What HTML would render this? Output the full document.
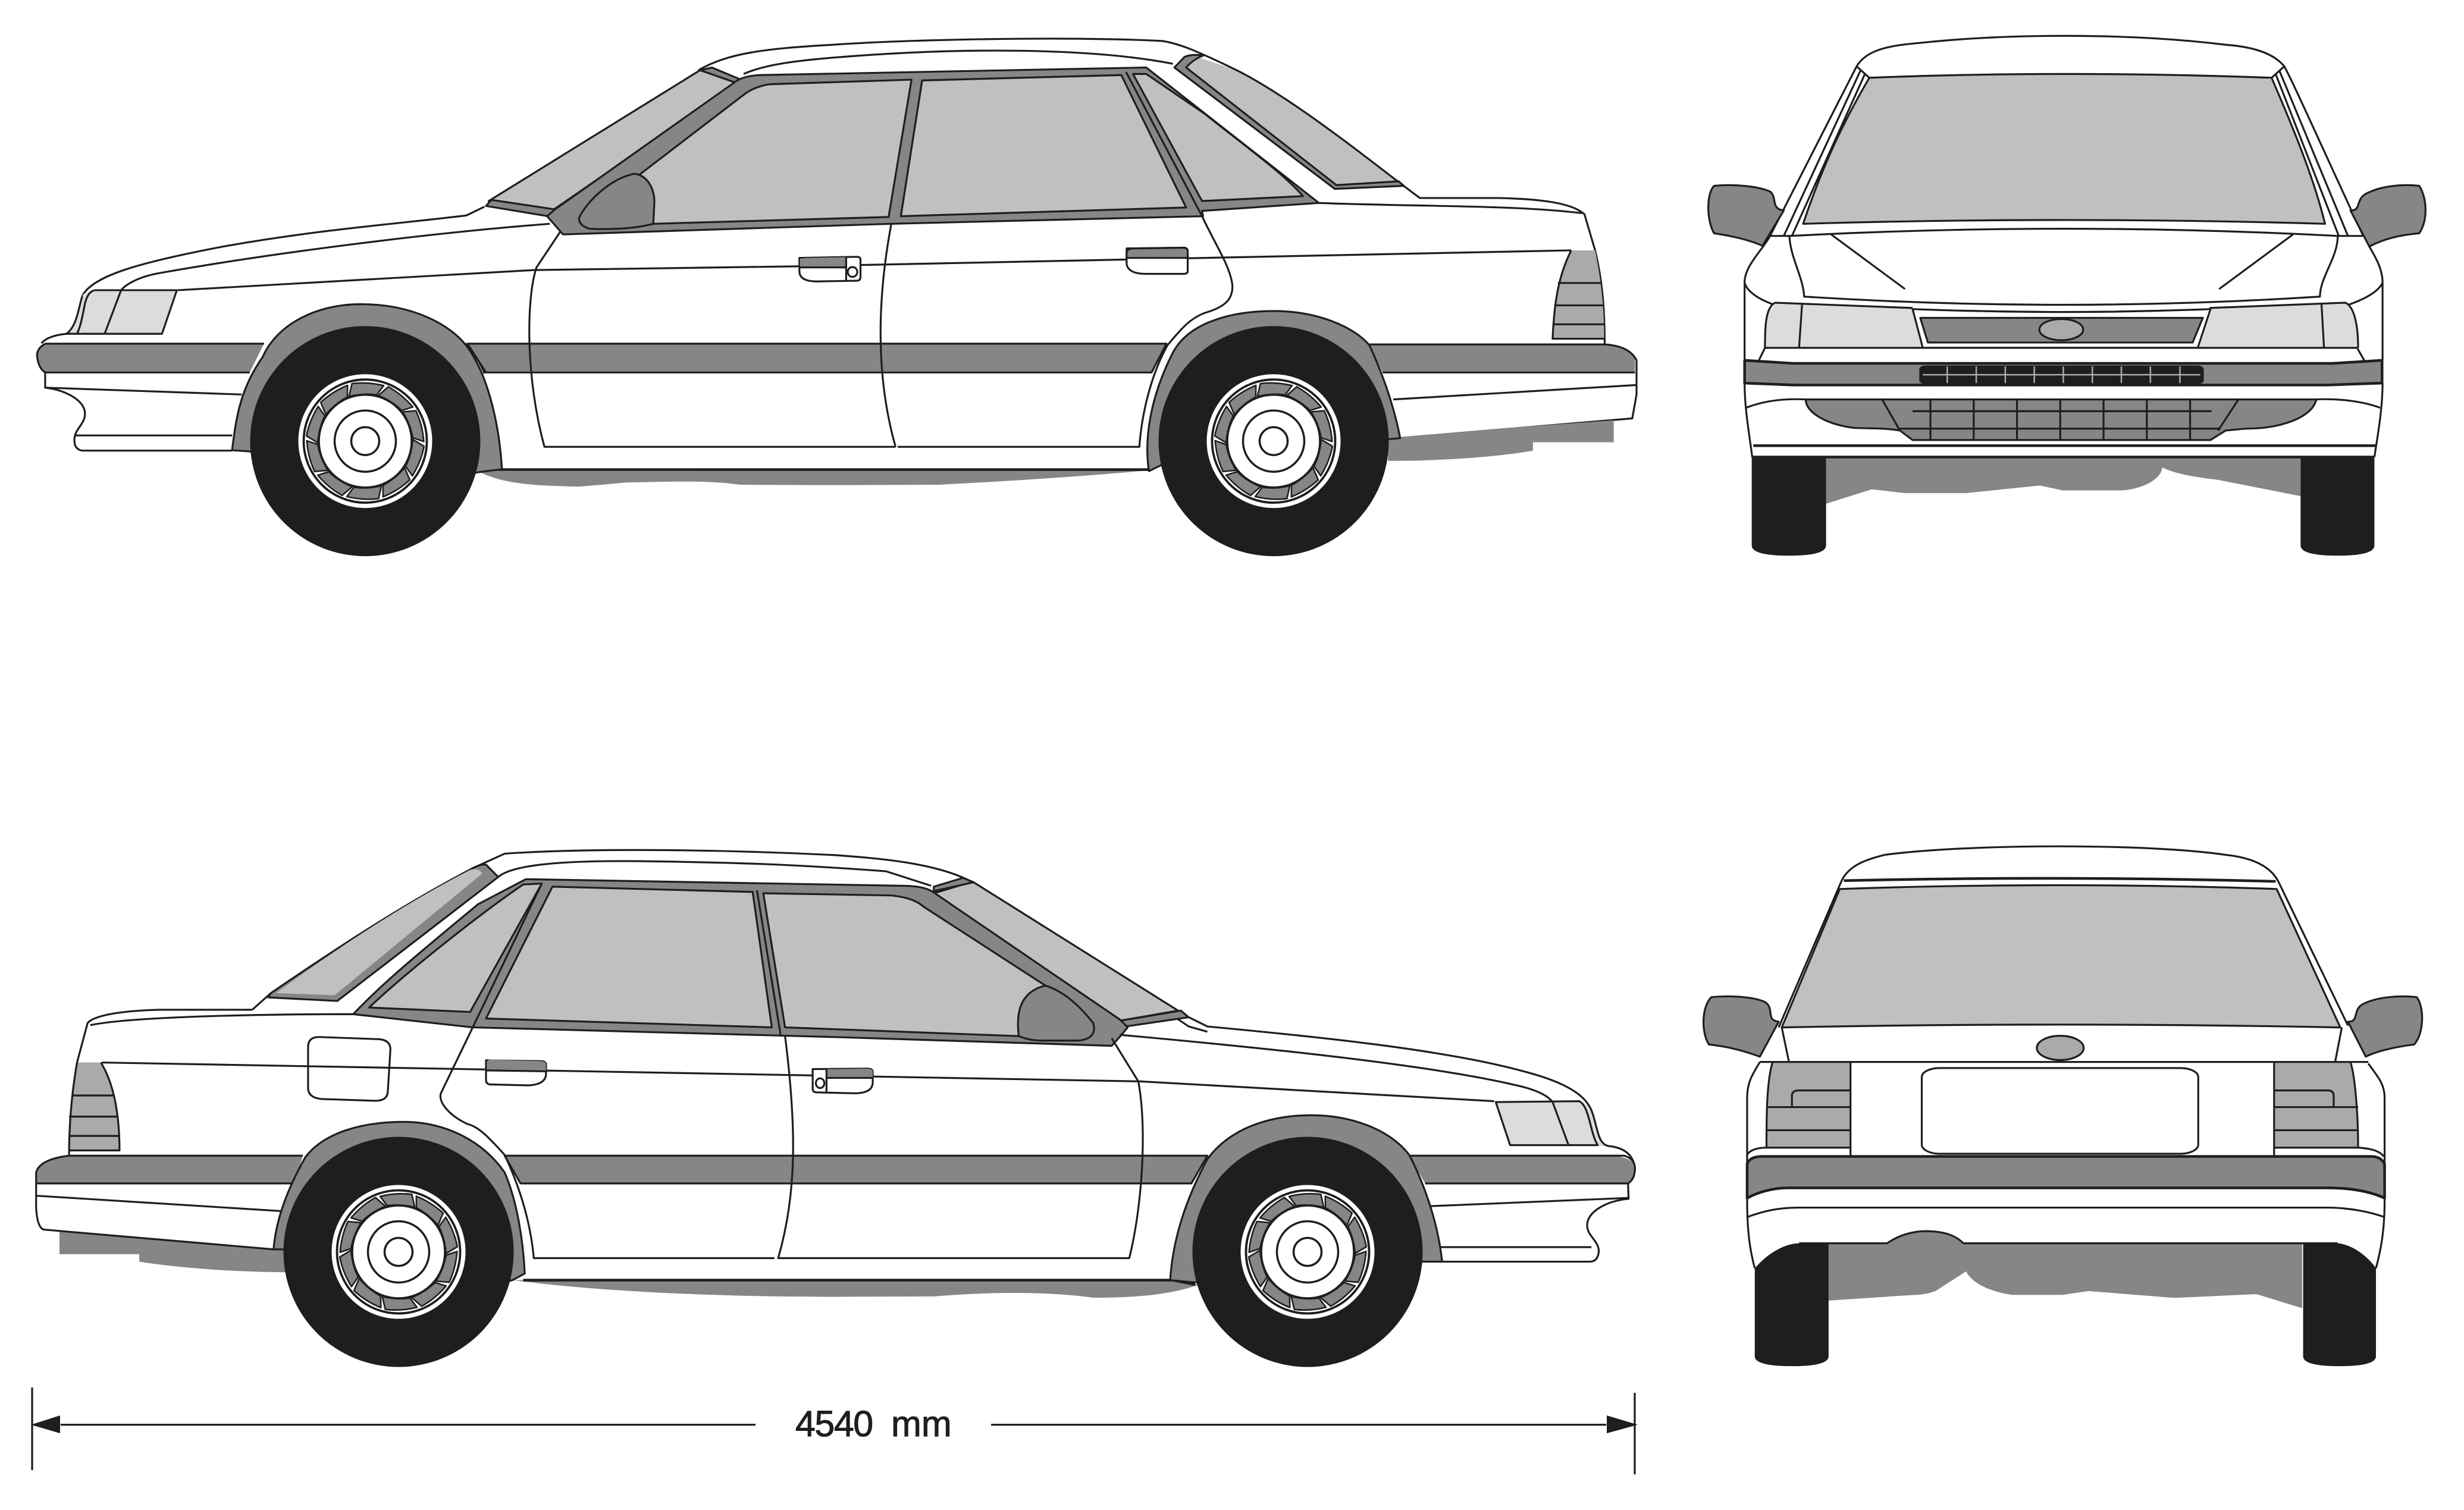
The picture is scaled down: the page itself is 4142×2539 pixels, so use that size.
<!DOCTYPE html>
<html><head><meta charset="utf-8"><style>
html,body{margin:0;padding:0;background:#fff}
svg{display:block}
svg *{vector-effect:non-scaling-stroke}
path,line,ellipse,rect,circle{stroke:#1e1e1e;stroke-width:3.2;stroke-linejoin:round;fill:none}
.g{fill:#868686}.l{fill:#c0c0c0}.k{fill:#1e1e1e}.h{fill:#dcdcdc}.t{fill:#aaa}.w{fill:#fff}
.n{stroke:none}.b{stroke-width:4.5}
text{font-family:"Liberation Sans",sans-serif;font-size:61px;fill:#1e1e1e;stroke:#1e1e1e;stroke-width:1;white-space:pre}
</style></head><body>
<svg xmlns="http://www.w3.org/2000/svg" width="4142" height="2539" viewBox="0 0 4142 2539">
<defs>
<path id="sg" class="g" style="stroke-width:2.6" d="M-22.3,-96.7 Q4,-100 31,-93.3 L19.3,-77.7 Q-4,-81 -27.3,-75Z"/>
<g id="sgs">
<use href="#sg"/><use href="#sg" transform="rotate(36)"/><use href="#sg" transform="rotate(72)"/><use href="#sg" transform="rotate(108)"/><use href="#sg" transform="rotate(144)"/><use href="#sg" transform="rotate(180)"/><use href="#sg" transform="rotate(216)"/><use href="#sg" transform="rotate(252)"/><use href="#sg" transform="rotate(288)"/><use href="#sg" transform="rotate(324)"/>
</g>
<g id="hub">
<circle r="78" class="w" style="stroke-width:3.5"/>
<circle r="51.5" class="w" style="stroke-width:3.5"/>
<circle r="23.5" class="w" style="stroke-width:3.5"/>
</g>
<g id="tyre">
<circle r="193.5" class="k n"/>
<circle r="112.5" class="w n"/>
<circle r="103.5" style="stroke-width:3.8"/>
</g>
<g id="wa"><use href="#tyre"/><use href="#sgs"/><use href="#hub"/></g>
<g id="wb"><use href="#tyre"/><use href="#sgs" transform="scale(-1,1)"/><use href="#hub"/></g>
</defs>

<!-- TOP SIDE VIEW -->
<g transform="scale(.8929,.6378)">
<path class="g n" d="M900,1242 L2163,1240 C2000,1260 1900,1268 1768,1278 L1568,1279 L1395,1278 C1340,1268 1300,1268 1180,1272 L1090,1283 C1020,1280 950,1280 900,1242Z"/>
<path class="b" d="M900,1238 L2163,1238"/>
<path class="g n" d="M80,906 L497,906 L470,982 L85,982 Q68,960 70,935 Q72,915 85,906Z"/>
<path d="M85,906 L497,906 M85,982 L470,982 M85,906 Q68,920 70,940 Q72,970 85,982"/>
<path class="g" d="M880,906 L2196,906 L2168,982 L915,982Z"/>
<path class="g" d="M437,1187 C445,1090 455,1020 495,940 C520,860 590,802 680,802 C770,802 850,850 885,925 C920,1000 940,1120 945,1237 L900,1245 L700,1300 L470,1190Z"/>
<path d="M875,905 Q900,940 912,985"/>

<path d="M155,780 C175,725 270,690 420,650 C600,605 750,590 878,568 L912,545"/>
<path d="M1035,590 C800,615 500,670 300,720 C260,730 235,750 225,770"/>
<path class="h n" d="M155,780 C148,810 145,860 125,880 L305,880 L333,765 L178,765 Q160,768 155,780Z"/>
<path d="M155,780 C148,810 145,860 125,880 Q90,885 78,905 M85,982 L85,1022 C130,1030 160,1060 160,1090 C160,1120 140,1130 140,1160 Q140,1185 155,1188 L437,1188"/>
<path d="M85,1022 L455,1040 M140,1148 L437,1148"/>
<path d="M178,765 L333,765 L305,880 L125,880 M178,765 Q165,770 160,800 C155,835 152,860 145,880"/>
<path d="M228,765 L197,880"/>
<path d="M335,765 L1005,712 L1505,702 L2958,660"/>
<path d="M1060,600 L1010,705 C990,790 990,1000 1025,1178 L1686,1178"/>
<path d="M1678,590 C1650,800 1650,1000 1686,1178"/>
<path d="M1690,1178 L2145,1178 C2150,1080 2170,980 2198,910 C2225,865 2240,840 2268,825 C2305,810 2322,790 2320,750 C2315,700 2290,650 2263,570"/>

<path class="l n" d="M2233,180 L2258,152 L2328,185 C2400,235 2500,335 2633,480 L2516,488Z"/>
<path d="M1315,185 C1370,140 1440,128 1568,118 C1700,105 2000,95 2188,108 C2220,115 2250,132 2328,185 C2400,235 2500,335 2633,480 L2673,522 L2818,522 C2900,524 2960,535 2983,565 L3003,660 C3015,730 3021,800 3021,908"/>
<path d="M1400,195 C1440,170 1500,160 1568,152 C1800,125 2050,125 2208,168"/>
<path class="l" d="M920,530 L1318,185 L1395,212 L1043,552Z"/>
<path class="g" d="M915,543 L925,527 L1045,552 L1032,570Z"/>
<path class="g" d="M1318,185 L1340,178 L1395,210 L1385,218Z"/>
<path class="g" d="M1030,570 L1045,552 L1385,215 Q1400,200 1430,198 L2158,178 L2483,535 L2263,556 L2265,570 L1678,590 L1060,618Z"/>
<path class="l" d="M1195,470 L1400,250 Q1420,228 1450,222 L1716,210 L1673,572 L1230,590Z"/>
<path class="g" d="M1090,575 C1105,530 1150,470 1195,458 C1225,465 1232,510 1232,530 L1230,590 C1190,605 1140,605 1110,603 Q1090,595 1090,575Z"/>
<g transform="translate(1568,0)">
<path class="l" d="M168,212 L543,198 L665,547 L128,570Z"/>
<path class="l" d="M565,195 L590,195 L700,300 C790,400 850,460 885,517 L695,530Z"/>
<path d="M552,190 L695,570"/>
<path d="M643,178 L945,498"/>
<path class="g" d="M643,178 L662,150 Q675,142 698,146 Q680,155 665,178 L948,488 L1065,478 L1075,490 L945,498Z"/>
<path class="w" d="M553,655 L660,653 Q668,653 668,663 L668,715 Q668,722 660,722 L590,722 Q555,722 553,695Z"/>
<path class="g" d="M553,680 L553,665 Q555,655 565,655 L660,653 Q668,653 668,663 L668,680Z"/>
<path class="t n" d="M1390,660 L1435,660 C1445,730 1452,800 1452,893 L1355,893 C1358,800 1365,730 1390,660Z"/>
<path d="M1390,660 C1365,730 1358,800 1355,893 L1452,893 M1365,746 L1448,746 M1358,805 L1452,805 M1356,855 L1452,855"/>
<path d="M915,535 C1100,545 1280,540 1410,562"/>
<path class="g n" d="M1010,908 L1453,908 Q1500,912 1510,945 L1510,982 L1035,982Z"/>
<path d="M1010,908 L1453,908 Q1500,912 1513,950 L1513,1040 L1505,1103 L1065,1155 M1035,982 L1510,982 M1055,1053 L1513,1015"/>
<path class="g n" d="M1045,1155 L1300,1125 L1470,1108 L1470,1166 L1318,1166 L1318,1188 C1250,1205 1150,1215 1045,1215Z"/>
<path class="g" d="M595,1242 C585,1150 600,1040 640,930 C670,850 750,820 830,820 C910,820 980,860 1010,910 C1030,970 1055,1060 1068,1155 L1045,1158 L1000,1200 L620,1225Z"/>
<path class="w" d="M-63,680 L45,677 Q52,677 52,685 L52,730 Q52,740 45,740 L-30,742 Q-63,742 -63,715Z"/>
<path class="g n" d="M-62,705 L-62,690 Q-60,680 -50,680 L25,678 L25,705Z"/>
<path d="M-63,705 L25,705 M25,678 L25,740"/>
<ellipse cx="37" cy="717" rx="9" ry="13"/>
</g>
</g>
<use href="#wa" x="614" y="741.7"/>
<use href="#wa" x="2141" y="741.7"/>

<!-- BOTTOM SIDE VIEW -->
<g transform="translate(0,1380) scale(.8929,.7392)">
<path class="g n" d="M965,1045 L2208,1045 L2258,1055 C2200,1080 2130,1085 2058,1085 C2000,1075 1900,1068 1758,1082 L1568,1083 C1400,1083 1150,1075 965,1045Z"/>
<path class="b" d="M985,1045 L2208,1045 L2250,1055"/>
<path class="g n" d="M112,935 L515,975 L540,975 L540,1027 C450,1027 340,1018 262,1003 L262,986 L112,986Z"/>
<path class="g n" d="M130,762 L570,762 L555,825 L68,825 L68,800 Q75,770 130,762Z"/>
<path d="M68,825 L68,800 Q75,770 130,762 L570,762 M68,825 L555,825"/>
<path class="g" d="M950,762 L2273,762 L2243,825 L980,825Z"/>
<path d="M68,825 L68,880 Q70,925 82,930 L515,975 M68,853 L530,888"/>
<path class="g" d="M515,975 C520,900 545,830 575,765 C610,710 680,685 760,685 C840,685 910,730 950,800 C975,870 985,960 988,1030 L965,1045 L800,1100 L540,975Z"/>
<path class="t n" d="M145,550 L190,550 C215,600 225,670 225,750 L130,750 C130,680 135,610 145,550Z"/>
<path d="M190,550 C215,600 225,670 225,750 L130,750 M135,625 L216,625 M130,673 L222,673 M130,717 L225,717"/>
<path d="M475,430 L300,430 C240,432 180,440 165,460 L145,550 C135,620 130,690 130,762"/>
<path d="M170,465 C250,445 500,440 665,440 L890,470"/>
<path class="w" d="M600,492 L715,497 Q735,500 735,520 L730,618 Q728,638 705,637 L605,633 Q580,630 580,608 L580,515 Q580,492 600,492Z"/>
<path d="M192,550 L2148,593 L2813,638"/>
<path d="M475,430 L510,392"/>
<path class="g" d="M510,392 C640,285 760,190 890,108 Q905,98 915,100 L938,128 L635,410 L505,402Z"/>
<path class="l n" d="M520,392 C640,285 760,190 885,112 Q900,106 908,120 L630,397Z"/>
<path d="M938,128 C960,105 1030,90 1200,92 C1400,95 1500,100 1668,115 L1753,148"/>
<path d="M890,108 L950,75 C1100,62 1350,65 1568,78 C1650,85 1760,95 1828,138 L2238,468 L2273,480"/>
<path class="l" d="M1758,165 L1813,145 L1833,140 L2218,432 L2108,455Z"/>
<path class="g" d="M1758,150 L1813,130 L1833,140 L1758,160Z"/>
<path class="g" d="M2108,455 L2223,432 L2238,447 L2108,470Z"/>
<path class="g" d="M665,440 C720,370 780,310 900,190 L990,133 L1698,148 C1730,148 1750,155 1760,165 L2108,452 L2123,470 L2113,485 L2093,512 L1568,492 L890,470Z"/>
<path class="l" d="M695,425 C760,350 900,215 985,145 L1020,143 L885,435Z"/>
<path class="l" d="M1040,150 L1417,162 L1453,470 L915,450Z"/>
<path d="M1425,158 L1470,490"/>
<path class="l" d="M1437,165 L1678,170 Q1720,175 1738,195 L1968,375 L1918,490 L1478,470Z"/>
<path d="M1020,143 L890,470"/>
<path d="M1458,995 L1005,995 C1000,930 985,850 950,760 C920,720 900,695 880,690 C845,670 825,640 830,620 L890,470"/>
<path d="M1478,490 C1500,700 1500,850 1465,995 L2126,995 C2150,880 2160,700 2143,593 L2093,495"/>
<g transform="translate(1568,0)">
<path class="g" d="M350,490 C345,440 350,390 400,375 C440,390 470,430 490,460 C495,480 490,495 465,500 L390,500 Q370,500 350,490Z"/>
<path d="M540,487 C750,510 1100,550 1280,600 Q1340,615 1355,640"/>
<path class="h n" d="M1248,640 L1405,638 Q1428,645 1432,670 C1438,710 1440,735 1460,740 L1275,738Z"/>
<path d="M670,447 L705,468 C900,490 1150,520 1300,570 C1380,595 1420,625 1430,665 C1440,700 1440,735 1460,740 Q1505,745 1510,790 Q1510,815 1497,825 L1498,860 C1455,865 1420,890 1420,920 C1420,945 1442,955 1442,980 Q1440,1003 1425,1003 L1147,1003"/>
<path d="M1120,877 L1498,858 M1145,970 L1428,970"/>
<path d="M1248,640 L1405,638 C1425,650 1425,710 1440,738 L1275,738Z"/>
<path d="M1355,640 L1385,738"/>
<path class="g n" d="M1085,762 L1470,762 Q1510,768 1510,790 Q1510,815 1497,825 L1115,825Z"/>
<path d="M1085,762 L1490,762 Q1510,770 1510,790 Q1510,815 1497,825 L1115,825"/>
<path class="g" d="M635,1045 C640,950 665,860 705,770 C750,695 830,670 900,670 C980,670 1050,705 1085,760 C1115,830 1140,920 1147,1003 L1110,1003 L680,1050Z"/>
<path class="w" d="M-38,565 L65,564 Q75,564 75,572 L75,595 Q75,620 40,620 L-30,618 Q-38,618 -38,610Z"/>
<path class="g n" d="M-12,565 L65,564 Q75,564 75,572 L75,585 L-12,585Z"/>
<path d="M-12,565 L-12,618 M-12,585 L75,585"/>
<ellipse cx="-24" cy="597" rx="8" ry="11"/>
</g>
<path class="w" d="M915,545 L1020,547 Q1028,548 1028,555 L1028,575 Q1028,600 995,602 L925,600 Q915,600 915,590Z"/>
<path class="g n" d="M917,568 L917,548 Q918,543 925,543 L1020,547 Q1028,548 1028,555 L1028,570Z"/>
<path d="M915,568 L1028,570"/>
</g>
<use href="#wb" x="670" y="2105"/>
<use href="#wb" x="2198" y="2105"/>

<!-- DIMENSION -->
<g>
<line x1="54" y1="2333" x2="54" y2="2472"/>
<line x1="102" y1="2395.6" x2="1270" y2="2395.6"/>
<path class="k n" d="M52,2395.6 L101,2380 L101,2410Z"/>
<line x1="2748" y1="2342" x2="2748" y2="2479"/>
<line x1="1666" y1="2395.6" x2="2700" y2="2395.6"/>
<path class="k n" d="M2753,2395.6 L2701,2380 L2701,2410Z"/>
<text x="1337" y="2415" letter-spacing="-1.5">4540</text>
<text x="1498" y="2415">mm</text>
</g>

<!-- FRONT VIEW -->
<g transform="translate(2800,0) scale(.8559,.6378)">
<path class="g n" d="M315,1208 L1247,1208 L1247,1308 L1085,1265 C1050,1260 1000,1250 975,1232 C975,1265 930,1293 890,1293 L780,1293 L735,1280 L590,1300 L470,1300 L405,1290 L315,1328Z"/>
<path class="k n" d="M169,1205 L315,1205 L315,1438 Q315,1465 242,1465 Q169,1465 169,1438Z"/>
<path class="k n" d="M1247,1205 L1392,1205 L1392,1438 Q1392,1465 1320,1465 Q1247,1465 1247,1438Z"/>
<path d="M375,175 C395,130 440,120 500,113 C660,90 900,85 1100,118 C1170,125 1200,150 1215,175 C1230,210 1300,420 1370,622"/>
<path d="M375,175 L205,622 M383,185 L232,622 M392,193 L248,622 M1205,185 L1340,622 M1198,195 L1322,622 M375,175 L400,205 M1215,175 L1190,205"/>
<path class="l" d="M400,205 Q780,185 1190,205 C1240,360 1275,480 1295,590 Q780,570 270,590 C310,430 350,320 400,205Z"/>
<path d="M205,622 L245,622 Q780,584 1320,622 L1370,622"/>
<path d="M243,622 C245,680 270,730 272,782 Q780,825 1285,782 C1285,730 1320,680 1320,622"/>
<path d="M325,618 L470,762 M1232,618 L1087,762"/>
<path d="M205,622 C190,660 155,700 155,745 L155,950 M155,745 C160,770 185,790 212,803 M1382,650 C1395,680 1408,710 1408,745 L1408,950 M1408,745 C1400,770 1370,790 1342,803"/>
<path class="h n" d="M215,798 L485,812 L505,917 L195,917 C195,870 195,810 215,798Z"/>
<path class="h n" d="M1068,812 L1335,798 C1355,810 1360,870 1360,917 L1048,917Z"/>
<path d="M215,798 L485,812 M195,917 C195,870 195,810 215,798 M1068,812 L1335,798 C1355,810 1360,870 1360,917 M268,800 L262,917 M1288,800 L1293,917"/>
<path d="M485,815 Q780,830 1070,815"/>
<path class="w" d="M485,815 Q780,830 1070,815 L1045,917 L505,917Z"/>
<path class="g" d="M500,838 L1055,838 L1035,903 L515,903Z"/>
<ellipse class="t" cx="777" cy="869" rx="43" ry="28"/>
<path d="M183,950 L195,917 L1358,917 L1372,950"/>
<path class="g b" d="M155,950 L250,958 L1310,958 L1407,950 L1407,1010 L1300,1015 L250,1015 L155,1010Z"/>
<rect class="k" x="500" y="966" width="555" height="44" rx="10" ry="8"/>
<path d="M505,988 L1050,988 M553,966 L553,1010 M610,966 L610,1010 M667,966 L667,1010 M724,966 L724,1010 M781,966 L781,1010 M838,966 L838,1010 M895,966 L895,1010 M952,966 L952,1010 M1010,966 L1010,1010" style="stroke:#aaa;stroke-width:2.5"/>
<path d="M155,1010 C155,1080 165,1150 170,1205 M1408,1010 C1408,1080 1398,1150 1392,1205"/>
<path class="b" d="M172,1175 L1395,1175 M169,1205 L1392,1205"/>
<path class="g" d="M275,1053 L1278,1053 C1270,1100 1210,1130 1140,1130 L1100,1135 L1070,1160 L485,1160 L460,1135 C430,1128 400,1130 370,1128 C320,1120 275,1090 275,1053Z"/>
<path d="M520,1053 L520,1160 M605,1053 L605,1160 M690,1053 L690,1160 M775,1053 L775,1160 M860,1053 L860,1160 M945,1053 L945,1160 M1030,1053 L1030,1160 M485,1084 L1072,1084 M460,1130 L1090,1130 M425,1053 L460,1135 M1125,1053 L1085,1135" />
<path d="M158,1075 C190,1058 230,1050 275,1053 M1278,1053 C1320,1050 1370,1058 1403,1075"/>
<path class="g" d="M95,490 C130,485 180,490 205,505 C220,520 205,550 232,555 L190,648 C160,630 120,620 95,615 C80,580 80,510 95,490Z"/>
<path class="g" d="M1345,555 C1370,555 1350,520 1385,505 C1410,490 1450,485 1480,490 C1495,520 1498,580 1480,615 C1440,620 1410,630 1382,650Z"/>
</g>

<!-- REAR VIEW -->
<g transform="translate(2800,1380) scale(.8559,.6378)">
<path class="g n" d="M320,1114 L435,1114 C460,1090 490,1082 510,1082 C550,1082 570,1095 585,1114 L1250,1114 L1250,1285 L1160,1248 L1000,1258 L830,1240 L780,1250 L680,1250 C630,1240 600,1215 590,1188 L530,1240 Q510,1250 490,1250 L320,1265Z"/>
<path class="k n" d="M175,1180 C200,1140 235,1114 262,1114 L320,1114 L320,1412 Q320,1438 248,1438 Q175,1438 175,1412Z"/>
<path class="k n" d="M1252,1114 L1320,1114 C1350,1118 1380,1150 1395,1180 L1395,1412 Q1395,1438 1323,1438 Q1252,1438 1252,1412Z"/>
<path d="M262,1114 L435,1114 C460,1090 490,1082 510,1082 C550,1082 570,1095 585,1114 L1320,1114"/>
<path d="M345,160 C360,115 400,100 430,90 C600,60 950,60 1100,90 C1170,100 1195,135 1205,165 L1340,540"/>
<path d="M345,160 L222,545"/>
<path class="b" d="M350,158 Q770,145 1198,160"/>
<path class="l" d="M342,180 Q770,160 1200,180 L1325,545 Q770,530 228,545Z"/>
<path d="M228,545 L242,635 M1328,545 L1315,635 M185,636 L1380,636"/>
<path class="g" d="M90,465 C130,460 175,465 195,478 C215,495 195,525 222,530 L185,622 C150,605 120,595 85,590 C70,560 70,490 90,465Z"/>
<path class="g" d="M1340,530 C1365,530 1345,495 1375,480 C1400,465 1440,460 1475,465 C1490,490 1490,560 1470,590 C1440,595 1400,605 1375,622Z"/>
<ellipse class="t" cx="775" cy="599" rx="46" ry="32"/>
<rect class="w" x="503" y="652" width="543" height="226" rx="35" ry="24"/>
<path class="t" d="M210,636 L363,636 L363,862 L198,862 C198,780 198,690 210,636Z"/>
<path d="M198,755 L363,755 M198,816 L363,816 M248,755 L248,725 Q248,711 262,711 L363,711"/>
<path class="t" d="M1195,636 L1345,636 C1355,680 1360,780 1360,862 L1195,862Z"/>
<path d="M1195,755 L1360,755 M1195,816 L1360,816 M1195,711 L1300,711 Q1312,711 1312,725 L1312,755"/>
<path d="M185,636 C170,670 160,690 160,730 L160,1000 C160,1080 165,1130 175,1180 M1380,640 C1395,670 1412,690 1412,730 L1412,1000 C1412,1080 1405,1130 1395,1180"/>
<path d="M160,880 Q170,862 198,862 M1360,862 Q1400,865 1410,885 M363,862 L363,883 M1195,862 L1195,883"/>
<path class="g b" d="M160,905 Q165,885 190,885 L1385,885 Q1405,885 1412,905 L1412,995 C1380,975 1340,968 1300,968 L240,968 C210,968 180,980 160,995Z"/>
<path d="M160,1045 C190,1030 220,1020 260,1020 L1300,1020 C1340,1020 1380,1030 1412,1045"/>
</g>
</svg>
</body></html>
